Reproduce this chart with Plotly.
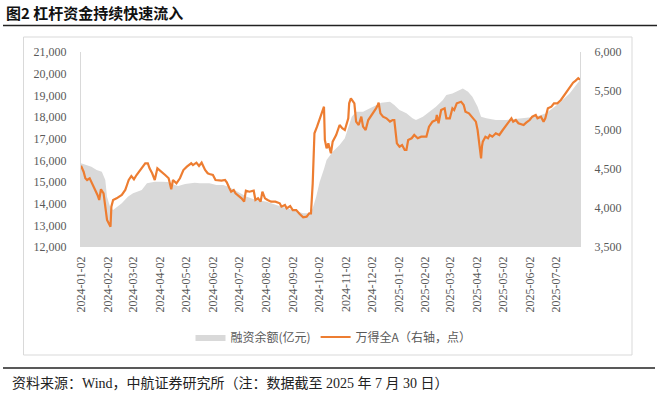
import plotly.graph_objects as go

# ---------------- data ----------------
margin_dates = [
    "2024-01-02", "2024-01-14", "2024-01-20", "2024-01-26", "2024-01-30", "2024-02-01",
    "2024-02-05", "2024-02-08", "2024-02-18", "2024-02-25", "2024-03-02", "2024-03-12",
    "2024-03-18", "2024-03-27", "2024-04-04", "2024-04-11", "2024-04-19", "2024-04-23",
    "2024-05-01", "2024-05-12", "2024-05-18", "2024-05-29", "2024-06-06", "2024-06-14",
    "2024-06-21", "2024-07-03", "2024-07-11", "2024-07-22", "2024-08-03", "2024-08-14",
    "2024-08-26", "2024-09-06", "2024-09-14", "2024-09-22", "2024-09-25", "2024-09-29",
    "2024-10-03", "2024-10-08", "2024-10-11", "2024-10-18", "2024-10-26", "2024-11-01",
    "2024-11-05", "2024-11-09", "2024-11-14", "2024-11-22", "2024-11-30", "2024-12-07",
    "2024-12-13", "2024-12-23", "2024-12-28", "2025-01-03", "2025-01-11", "2025-01-18",
    "2025-01-22", "2025-01-30", "2025-02-07", "2025-02-14", "2025-02-22", "2025-02-26",
    "2025-03-05", "2025-03-13", "2025-03-17", "2025-03-23", "2025-03-28", "2025-04-03",
    "2025-04-07", "2025-04-13", "2025-04-24", "2025-05-06", "2025-05-21", "2025-06-09",
    "2025-06-21", "2025-06-28", "2025-07-06", "2025-07-18", "2025-07-30",
]
margin_balance = [
    15860, 15706, 15554, 15475, 15092, 14321,
    13786, 13708, 14016, 14322, 14478, 14630,
    14940, 15014, 15014, 15000, 14861, 14815,
    14907, 14970, 14940, 14940, 14861, 14861,
    14755, 14478, 14322, 14169, 14092, 13938,
    13786, 13630, 13555, 13555, 13786, 14322,
    15000, 15600, 16015, 16400, 16707, 17015,
    17552, 18015, 18245, 18245, 18400, 18553,
    18660, 18707, 18553, 18323, 18170, 17940,
    17860, 18015, 18245, 18475, 18785, 19015,
    19090, 19245, 19320, 19170, 18940, 18475,
    18015, 17940, 17860, 17860, 17940, 18015,
    18170, 18400, 18630, 19090, 19710,
]

wind_dates = [
    "2024-01-02", "2024-01-05", "2024-01-07", "2024-01-09", "2024-01-12", "2024-01-15",
    "2024-01-17", "2024-01-21", "2024-01-23", "2024-01-25", "2024-01-28", "2024-01-30",
    "2024-02-01", "2024-02-05", "2024-02-06", "2024-02-08", "2024-02-12", "2024-02-18",
    "2024-02-22", "2024-02-24", "2024-02-26", "2024-02-29", "2024-03-03", "2024-03-06",
    "2024-03-10", "2024-03-12", "2024-03-16", "2024-03-19", "2024-03-21", "2024-03-24",
    "2024-03-27", "2024-03-30", "2024-04-04", "2024-04-08", "2024-04-12", "2024-04-15",
    "2024-04-17", "2024-04-21", "2024-04-25", "2024-04-29", "2024-05-03", "2024-05-08",
    "2024-05-10", "2024-05-14", "2024-05-17", "2024-05-20", "2024-05-24", "2024-05-27",
    "2024-05-29", "2024-06-02", "2024-06-05", "2024-06-12", "2024-06-16", "2024-06-18",
    "2024-06-21", "2024-06-23", "2024-06-26", "2024-06-28", "2024-07-05", "2024-07-08",
    "2024-07-10", "2024-07-14", "2024-07-19", "2024-07-21", "2024-07-24", "2024-07-27",
    "2024-07-29", "2024-08-01", "2024-08-04", "2024-08-08", "2024-08-13", "2024-08-18",
    "2024-08-20", "2024-08-24", "2024-08-26", "2024-08-30", "2024-09-02", "2024-09-06",
    "2024-09-10", "2024-09-14", "2024-09-18", "2024-09-21", "2024-09-23", "2024-09-25",
    "2024-09-27", "2024-09-30", "2024-10-08", "2024-10-09", "2024-10-11", "2024-10-13",
    "2024-10-15", "2024-10-16", "2024-10-18", "2024-10-22", "2024-10-26", "2024-10-29",
    "2024-11-01", "2024-11-05", "2024-11-06", "2024-11-08", "2024-11-12", "2024-11-14",
    "2024-11-17", "2024-11-20", "2024-11-22", "2024-11-25", "2024-11-28", "2024-12-02",
    "2024-12-05", "2024-12-07", "2024-12-09", "2024-12-10", "2024-12-12", "2024-12-15",
    "2024-12-19", "2024-12-23", "2024-12-26", "2024-12-28", "2024-12-31", "2025-01-03",
    "2025-01-06", "2025-01-09", "2025-01-11", "2025-01-13", "2025-01-17", "2025-01-20",
    "2025-01-24", "2025-01-28", "2025-02-03", "2025-02-06", "2025-02-10", "2025-02-14",
    "2025-02-15", "2025-02-17", "2025-02-20", "2025-02-24", "2025-02-26", "2025-03-02",
    "2025-03-05", "2025-03-07", "2025-03-10", "2025-03-15", "2025-03-18", "2025-03-20",
    "2025-03-24", "2025-03-27", "2025-03-29", "2025-04-01", "2025-04-03", "2025-04-05",
    "2025-04-07", "2025-04-08", "2025-04-09", "2025-04-12", "2025-04-15", "2025-04-17",
    "2025-04-20", "2025-04-24", "2025-04-28", "2025-05-02", "2025-05-06", "2025-05-09",
    "2025-05-12", "2025-05-14", "2025-05-17", "2025-05-20", "2025-05-26", "2025-05-29",
    "2025-06-02", "2025-06-05", "2025-06-09", "2025-06-11", "2025-06-15", "2025-06-18",
    "2025-06-20", "2025-06-23", "2025-06-27", "2025-06-30", "2025-07-04", "2025-07-08",
    "2025-07-12", "2025-07-16", "2025-07-18", "2025-07-22", "2025-07-25", "2025-07-28",
    "2025-07-30",
]
wind_a = [
    4542, 4465, 4381, 4359, 4381, 4316,
    4265, 4167, 4103, 4240, 4188, 4038,
    3846, 3760, 4017, 4103, 4124, 4167,
    4231, 4295, 4359, 4410, 4368, 4423,
    4487, 4509, 4573, 4573, 4509, 4445,
    4359, 4509, 4465, 4423, 4381, 4240,
    4359, 4316, 4381, 4487, 4530, 4573,
    4550, 4581, 4538, 4581, 4487, 4445,
    4436, 4423, 4359, 4350, 4359, 4330,
    4253, 4209, 4230, 4188, 4124, 4081,
    4222, 4209, 4222, 4103, 4124, 4081,
    4209, 4124, 4103, 4081, 4081, 4060,
    4017, 4038, 3996, 4026, 3974, 3974,
    3923, 3881, 3889, 3932, 3932, 4316,
    4958, 5043, 5299, 4872, 4765, 4829,
    4744, 4701, 4851, 4936, 5064, 5022,
    5000, 5150, 5342, 5406, 5342, 5107,
    5064, 5171, 5043, 5000, 5128, 5192,
    5235, 5278, 5321, 5350, 5214, 5171,
    5150, 5107, 5128, 5128, 4829, 4786,
    4808, 4744, 4744, 4872, 4894, 4936,
    4894, 4914, 4914, 5043, 5107, 5128,
    5192, 5086, 5256, 5278, 5150, 5150,
    5278, 5256, 5342, 5363, 5320, 5235,
    5214, 5171, 5150, 5107, 5000, 4829,
    4637, 4786, 4851, 4914, 4894, 4936,
    4914, 4958, 4936, 5000, 5064, 5107,
    5150, 5107, 5128, 5086, 5064, 5094,
    5128, 5171, 5192, 5150, 5171, 5107,
    5150, 5278, 5299, 5342, 5342, 5385,
    5449, 5513, 5555, 5607, 5633, 5663,
    5645,
]

tick_dates = [
    "2024-01-02", "2024-02-02", "2024-03-02", "2024-04-02", "2024-05-02", "2024-06-02",
    "2024-07-02", "2024-08-02", "2024-09-02", "2024-10-02", "2024-11-02", "2024-12-02",
    "2025-01-02", "2025-02-02", "2025-03-02", "2025-04-02", "2025-05-02", "2025-06-02",
    "2025-07-02",
]

title_text = "图2 杠杆资金持续快速流入"
source_text = "资料来源：Wind，中航证券研究所（注：数据截至 2025 年 7 月 30 日）"
name_margin = "融资余额(亿元)"
name_wind = "万得全A（右轴，点）"

# ---------------- figure ----------------
W, H = 660, 395
L, R, T, B = 81, 80, 52, 148
pw, ph = W - L - R, H - T - B


def px(x):
    return (x - L) / pw


def py(y):
    return (H - B - y) / ph


SERIF = "Liberation Serif, Noto Sans CJK SC, serif"
TXT = "#595959"

fig = go.Figure()
fig.add_trace(go.Scatter(
    x=margin_dates, y=margin_balance, name=name_margin,
    mode="lines", line=dict(width=0, color="#D9D9D9"),
    fill="tozeroy", fillcolor="#D9D9D9", yaxis="y",
))
fig.add_trace(go.Scatter(
    x=wind_dates, y=wind_a, name=name_wind,
    mode="lines", line=dict(width=2.2, color="#ED7D31"), yaxis="y2",
))

fig.update_layout(
    width=W, height=H,
    margin=dict(l=L, r=R, t=T, b=B, autoexpand=False),
    paper_bgcolor="white", plot_bgcolor="white",
    showlegend=True,
    legend=dict(
        orientation="h", x=0.506, xanchor="center", y=py(337), yanchor="middle",
        font=dict(family="Noto Sans CJK SC, Liberation Serif", size=12, color=TXT),
        itemwidth=30, bgcolor="rgba(0,0,0,0)",
    ),
    xaxis=dict(
        type="date", range=["2024-01-02", "2025-07-30"],
        tickvals=tick_dates, tickformat="%Y-%m-%d", tickangle=-90,
        showgrid=False, zeroline=False, showline=False,
        tickfont=dict(family=SERIF, size=12, color=TXT),
        ticks="", ticklabelstandoff=6,
    ),
    yaxis=dict(
        range=[12000, 21000], dtick=1000, tickformat=",d",
        showgrid=False, zeroline=False, showline=True, linecolor="#D9D9D9", linewidth=1,
        tickfont=dict(family=SERIF, size=12, color=TXT),
        ticks="", ticklabelstandoff=11,
    ),
    yaxis2=dict(
        range=[3500, 6000], dtick=500, tickformat=",d", overlaying="y", side="right",
        showgrid=False, zeroline=False, showline=True, linecolor="#D9D9D9", linewidth=1,
        tickfont=dict(family=SERIF, size=12, color=TXT),
        ticks="", ticklabelstandoff=11,
    ),
    shapes=[
        dict(type="rect", xref="paper", yref="paper",
             x0=px(23.5), x1=px(632), y0=py(355), y1=py(37),
             line=dict(color="#D9D9D9", width=1), fillcolor="rgba(0,0,0,0)", layer="below"),
        dict(type="line", xref="paper", yref="paper",
             x0=px(3), x1=px(657), y0=py(25.5), y1=py(25.5),
             line=dict(color="#222222", width=1.5)),
        dict(type="line", xref="paper", yref="paper",
             x0=px(3), x1=px(655), y0=py(368), y1=py(368),
             line=dict(color="#222222", width=1.5)),
    ],
    annotations=[
        dict(text="<b>" + title_text + "</b>", xref="paper", yref="paper",
             x=px(4), y=py(12.5), xanchor="left", yanchor="middle", showarrow=False,
             font=dict(family="Noto Sans CJK SC", size=15, color="#111111")),
        dict(text=source_text, xref="paper", yref="paper",
             x=px(10), y=py(383), xanchor="left", yanchor="middle", showarrow=False,
             font=dict(family="Liberation Serif, Noto Sans CJK SC", size=14, color="#222222")),
    ],
)

fig.write_html(
    "out.html",
    config={"displayModeBar": False},
    post_script="document.body.style.margin='0';document.body.style.overflow='hidden';",
)
